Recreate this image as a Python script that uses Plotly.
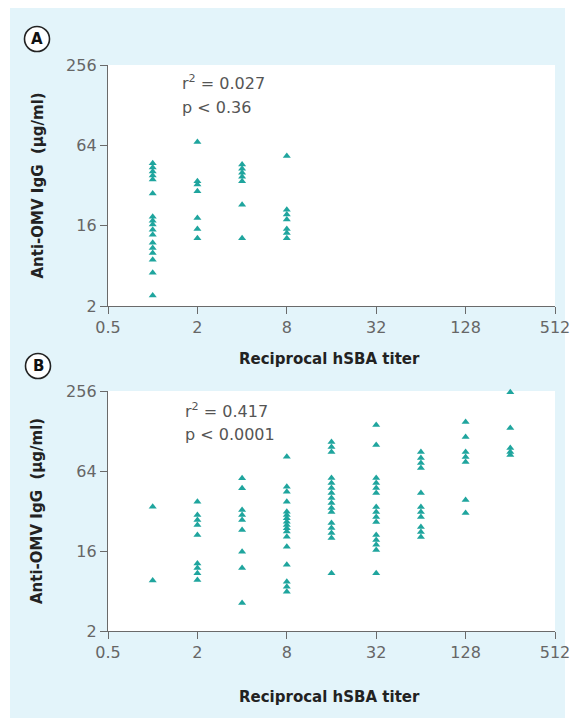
import math
import plotly.graph_objects as go

W, H = 572, 726

# ---------------- data ----------------
titers_A = [1, 2, 4, 8]
igg_A = [
    [46.9, 43.7, 40.8, 38.0, 35.5, 27.9, 18.7, 17.4, 16.3, 14.9, 13.7, 11.9, 10.9, 10.0, 8.9, 7.1, 4.8],
    [67.7, 34.5, 32.6, 29.0, 18.3, 15.1, 12.9],
    [46.0, 42.7, 39.8, 37.2, 34.5, 23.0, 12.9],
    [53.2, 21.1, 19.4, 17.8, 15.1, 14.1, 12.9],
]

titers_B = [1, 2, 4, 8, 16, 32, 64, 128, 256]
igg_B = [
    [34.5, 9.6],
    [37.6, 29.9, 27.4, 25.1, 21.1, 12.9, 11.9, 10.9, 9.7],
    [56.4, 47.4, 32.6, 29.9, 27.4, 23.0, 15.8, 11.9, 6.5],
    [82.0, 48.8, 44.7, 37.6, 31.6, 29.9, 28.2, 26.6, 25.1, 23.7, 22.4, 20.5, 17.2, 12.6, 9.4, 8.6, 7.9],
    [105.8, 97.0, 89.0, 56.7, 52.0, 47.7, 43.7, 40.1, 36.8, 33.7, 31.4, 26.0, 23.8, 21.9, 20.0, 10.9],
    [142.0, 100.4, 56.7, 52.0, 47.7, 43.7, 34.3, 31.4, 28.8, 26.5, 21.1, 19.4, 17.8, 16.3, 10.9],
    [89.0, 80.2, 73.5, 67.4, 43.7, 34.3, 31.4, 28.8, 24.3, 22.2, 20.4],
    [149.6, 115.3, 89.0, 81.6, 74.8, 38.7, 30.9],
    [250.0, 134.9, 95.3, 89.0, 84.5],
]

x_tickvals = [0.5, 2, 8, 32, 128, 512]
x_ticktext = ["0.5", "2", "8", "32", "128", "512"]
y_tickvals = [4, 16, 64, 256]
y_ticktext = ["2", "16", "64", "256"]

stats_A = ["r<sup>2</sup> = 0.027", "p < 0.36"]
stats_B = ["r<sup>2</sup> = 0.417", "p < 0.0001"]

x_title = "Reciprocal hSBA titer"
y_title = "Anti-OMV IgG  (µg/ml)"

# ---------------- helpers (page pixel -> paper fraction) ----------------
def px(x):
    return x / W

def py(y):
    return 1 - y / H

def flatten(titers, groups):
    xs, ys = [], []
    for t, g in zip(titers, groups):
        for v in g:
            xs.append(t)
            ys.append(v)
    return xs, ys

TEAL = "#1fa59e"
AXIS = "#6a6a6a"
TICKFONT = dict(family="DejaVu Sans", size=16, color="#666666")
BOLD = "DejaVu Sans"

fig = go.Figure()

xa, ya = flatten(titers_A, igg_A)
xb, yb = flatten(titers_B, igg_B)

marker = dict(symbol="triangle-up", size=7, color=TEAL, line=dict(width=0))
fig.add_trace(go.Scatter(x=xa, y=ya, mode="markers", marker=marker,
                         xaxis="x", yaxis="y", cliponaxis=False, showlegend=False))
fig.add_trace(go.Scatter(x=xb, y=yb, mode="markers", marker=marker,
                         xaxis="x2", yaxis="y2", cliponaxis=False, showlegend=False))

# plot geometry (page pixels)
left, right = 108, 555
A_top, A_bot = 65, 306
B_top, B_bot = 391, 631

common_x = dict(type="log", range=[math.log10(0.5), math.log10(512)],
                tickvals=x_tickvals, ticktext=x_ticktext, showgrid=False,
                zeroline=False, showline=True, linecolor=AXIS, linewidth=1.3,
                ticks="outside", ticklen=7, tickcolor=AXIS, tickwidth=1.3,
                tickfont=TICKFONT, automargin=False)
common_y = dict(type="log", range=[math.log10(4), math.log10(256)],
                tickvals=y_tickvals, ticktext=y_ticktext, showgrid=False,
                zeroline=False, showline=True, linecolor=AXIS, linewidth=1.3,
                ticks="outside", ticklen=7, tickcolor=AXIS, tickwidth=1.3,
                tickfont=TICKFONT, automargin=False)

fig.update_layout(
    width=W, height=H,
    margin=dict(l=0, r=0, t=0, b=0, autoexpand=False),
    paper_bgcolor="#e3f4fa",
    plot_bgcolor="white",
    xaxis=dict(common_x, domain=[px(left), px(right)], anchor="y"),
    yaxis=dict(common_y, domain=[py(A_bot), py(A_top)], anchor="x"),
    xaxis2=dict(common_x, domain=[px(left), px(right)], anchor="y2"),
    yaxis2=dict(common_y, domain=[py(B_bot), py(B_top)], anchor="x2"),
)

shapes = []
# white outer border around the tinted panel
for x0, y0, x1, y1 in [(0, 0, W, 8), (0, H - 8, W, H), (0, 0, 10, H), (W - 7, 0, W, H)]:
    shapes.append(dict(type="rect", xref="paper", yref="paper",
                       x0=px(x0), x1=px(x1), y0=py(y1), y1=py(y0),
                       fillcolor="white", line=dict(width=0), layer="below"))
# panel label circles
for cx, cy in [(37, 39), (38, 366)]:
    r = 12.5
    shapes.append(dict(type="circle", xref="paper", yref="paper",
                       x0=px(cx - r), x1=px(cx + r), y0=py(cy + r), y1=py(cy - r),
                       fillcolor="white", line=dict(color="#222222", width=1.6)))
fig.update_layout(shapes=shapes)

ann = []
for lab, (cx, cy) in zip(["A", "B"], [(37, 39), (38, 366)]):
    ann.append(dict(text=f"<b>{lab}</b>", x=px(cx), y=py(cy), xref="paper", yref="paper",
                    showarrow=False, xanchor="center", yanchor="middle",
                    font=dict(family=BOLD, size=15, color="#111111")))

for lines, x0, ys in [(stats_A, 180, (82, 107)), (stats_B, 183, (410, 434))]:
    for t, yy in zip(lines, ys):
        ann.append(dict(text=t, x=px(x0), y=py(yy), xref="paper", yref="paper",
                        showarrow=False, xanchor="left", yanchor="middle",
                        font=dict(family="DejaVu Sans", size=16, color="#555555")))

for ty in [359, 697]:
    ann.append(dict(text=f"<b>{x_title}</b>", x=px((left + right) / 2 - 2), y=py(ty),
                    xref="paper", yref="paper", showarrow=False,
                    xanchor="center", yanchor="middle",
                    font=dict(family=BOLD, size=15, color="#222222")))
for top, bot in [(A_top, A_bot), (B_top, B_bot)]:
    ann.append(dict(text=f"<b>{y_title}</b>", x=px(37), y=py((top + bot) / 2),
                    xref="paper", yref="paper", showarrow=False, textangle=-90,
                    xanchor="center", yanchor="middle",
                    font=dict(family=BOLD, size=15, color="#222222")))
fig.update_layout(annotations=ann)

fig.write_html(
    "out.html",
    config={"displayModeBar": False},
    post_script="document.body.style.margin='0';",
)
